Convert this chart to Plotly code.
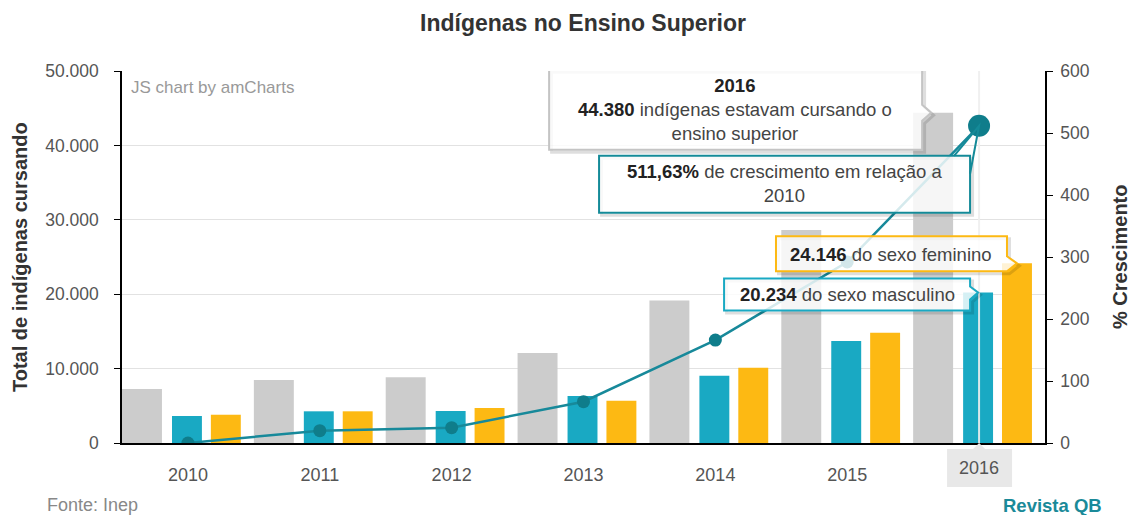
import plotly.graph_objects as go

# ---------------- data ----------------
years = ["2010", "2011", "2012", "2013", "2014", "2015", "2016"]
total = [7256, 8470, 8850, 12100, 19150, 28630, 44380]
masculino = [3630, 4260, 4300, 6320, 9050, 13710, 20234]
feminino = [3800, 4260, 4700, 5690, 10120, 14830, 24146]
crescimento = [0, 19.8, 24.7, 66.6, 166.0, 291.9, 511.63]
y_ticks = [0, 10000, 20000, 30000, 40000, 50000]
y2_ticks = [0, 100, 200, 300, 400, 500, 600]

# ---------------- style ----------------
FONT = "Arial, Liberation Sans, sans-serif"
GREY, TEAL, YELLOW = "#cccccc", "#19a9c3", "#fdb913"
LINE, DOT = "#17899a", "#0f7d8b"
W_GREY, OFF_GREY = 0.303, -0.5
W_SEX = 0.227
OFF_M, OFF_F = -0.121, 0.174

# body margin is removed by post_script, so the figure starts at (0, 0)
W, H = 1131, 515
L, T = 122, 71
R = 1131 - 1045
B = 515 - 443
PW = W - L - R
PH = H - T - B

xs = list(range(len(years)))
last = xs[-1]

fig = go.Figure()
fig.add_bar(x=xs, y=total, width=W_GREY, offset=OFF_GREY, marker_color=GREY,
            marker_line_width=0, name="Total")
fig.add_bar(x=xs, y=masculino, width=W_SEX, offset=OFF_M, marker_color=TEAL,
            marker_line_width=0, name="Masculino")
fig.add_bar(x=xs, y=feminino, width=W_SEX, offset=OFF_F, marker_color=YELLOW,
            marker_line_width=0, name="Feminino")
# category cursor line on the highlighted year
fig.add_scatter(x=[last, last], y=[0, y_ticks[-1]], mode="lines",
                line=dict(color="rgba(238,238,238,0.9)", width=2), hoverinfo="skip")
fig.add_scatter(x=xs, y=crescimento, yaxis="y2", mode="lines+markers",
                line=dict(color=LINE, width=2.5),
                marker=dict(color=DOT, size=13, line=dict(width=0)), name="% Crescimento")

shapes = []
annotations = []
TXT = 18.5


def shift(path, dx, dy):
    pts = path.replace("M", "").replace("Z", "").split("L")
    sp = []
    for p in pts:
        a, b = p.strip().split(",")
        sp.append(f"{float(a)+dx},{float(b)+dy}")
    return "M" + " L".join(sp) + " Z"


def balloon(xa, ya, yref, path, border, text, dx, dy, wedge=None):
    base = dict(type="path", xref="x", yref=yref, xsizemode="pixel", ysizemode="pixel",
                xanchor=xa, yanchor=ya, layer="above")
    shapes.append(dict(base, path=shift(path, 2.5, -2.5), fillcolor="rgba(0,0,0,0)",
                       line=dict(color="rgba(0,0,0,0.13)", width=3)))
    shapes.append(dict(base, path=path, fillcolor="rgba(255,255,255,0.82)",
                       line=dict(color=border, width=2)))
    if wedge:
        shapes.append(dict(base, path=wedge, fillcolor="rgba(0,0,0,0)",
                           line=dict(color=border, width=2)))
    annotations.append(dict(x=xa, y=ya, xref="x", yref=yref, xshift=dx, yshift=dy,
                            text=text, showarrow=False, align="center",
                            xanchor="center", yanchor="middle",
                            font=dict(family=FONT, size=TXT, color="#444")))


grey_c = last + OFF_GREY + W_GREY / 2
m_c = last + OFF_M + W_SEX / 2
f_c = last + OFF_F + W_SEX / 2

# total balloon (grey)
balloon(grey_c, total[-1], "y",
        "M -384,43 L -11,43 L -11,8 L -2,0 L -11,-8 L -11,-37 L -384,-37 Z",
        "#c4c4c4",
        f"<b style='color:#222'>{years[-1]}</b><br><b style='color:#222'>44.380</b> indígenas estavam cursando o<br>ensino superior",
        -198, 3)
# growth balloon
balloon(last, crescimento[-1], "y2",
        "M -380,-30 L -9,-30 L -9,-87 L -380,-87 Z",
        "#148a98",
        "<b style='color:#222'>511,63%</b> de crescimento em relação a<br>2010",
        -195, -58,
        wedge="M -25,-30 L 0,0 L -9,-48")
# feminino balloon
balloon(f_c, feminino[-1], "y",
        "M -241,27 L -10,27 L -10,7 L 0,0 L -10,-8 L -241,-8 Z",
        YELLOW,
        "<b style='color:#222'>24.146</b> do sexo feminino",
        -126, 9)
# masculino balloon
balloon(m_c, masculino[-1], "y",
        "M -254,14 L -8,14 L -8,6 L 0,0 L -8,-7 L -8,-18 L -254,-18 Z",
        TEAL,
        "<b style='color:#222'>20.234</b> do sexo masculino",
        -131, -2)

# highlighted (hovered) point of the growth line, on top of everything
fig.add_scatter(x=[last], y=[crescimento[-1]], yaxis="y2", mode="markers",
                marker=dict(color=DOT, size=22, line=dict(width=0)), hoverinfo="skip")

# category cursor label on x axis
shapes.append(dict(type="path", xref="x", yref="paper", xsizemode="pixel", ysizemode="pixel",
                   xanchor=last, yanchor=0, layer="above",
                   path="M -32,-6 L -6,-6 L 0,0 L 6,-6 L 33,-6 L 33,-44 L -32,-44 Z",
                   fillcolor="#e8e8e8", line=dict(width=0)))
annotations.append(dict(x=last, y=0, xref="x", yref="paper", yshift=-25, yanchor="middle",
                        text=years[-1], showarrow=False,
                        font=dict(family=FONT, size=18, color="#555")))

foot_y = -(B - 10) / PH
annotations += [
    dict(x=0, y=0.5, xref="paper", yref="paper", xshift=-102, xanchor="center", yanchor="middle",
         text="<b>Total de indígenas cursando</b>",
         textangle=-90, showarrow=False, font=dict(family=FONT, size=20, color="#333")),
    dict(x=1, y=0.5, xref="paper", yref="paper", xshift=75, xanchor="center", yanchor="middle",
         text="<b>% Crescimento</b>",
         textangle=-90, showarrow=False, font=dict(family=FONT, size=20, color="#333")),
    dict(x=0, y=1, xref="paper", yref="paper", xshift=7, yshift=-16, xanchor="left",
         yanchor="middle", text="JS chart by amCharts", showarrow=False,
         font=dict(family=FONT, size=17, color="#999")),
    dict(x=(45 - L) / PW, y=foot_y, xref="paper", yref="paper",
         xanchor="left", yanchor="middle", text="Fonte: Inep", showarrow=False,
         font=dict(family=FONT, size=18, color="#888")),
    dict(x=(1104 - L) / PW, y=foot_y, xref="paper", yref="paper",
         xanchor="right", yanchor="middle", text="<b>Revista QB</b>", showarrow=False,
         font=dict(family=FONT, size=18.5, color="#1a8a99")),
]

fig.update_layout(
    width=W, height=H,
    margin=dict(l=L, r=R, t=T, b=B, autoexpand=False),
    paper_bgcolor="white", plot_bgcolor="white",
    barmode="overlay", showlegend=False, hovermode=False,
    separators=",.",
    font=dict(family=FONT, size=17, color="#555"),
    title=dict(text="<b>Indígenas no Ensino Superior</b>", x=583 / W, xanchor="center",
               y=1 - 23 / H, yanchor="middle",
               font=dict(family=FONT, size=23, color="#333")),
    xaxis=dict(range=[-0.5, len(years) - 0.5], tickvals=xs,
               ticktext=years[:-1] + [""], showgrid=False, zeroline=False,
               showline=True, linecolor="#000", linewidth=1.5, ticks="",
               ticklabelstandoff=15, tickfont=dict(size=18, color="#555")),
    yaxis=dict(range=[0, y_ticks[-1]], tickvals=y_ticks, tickformat=",d",
               showgrid=True, gridcolor="#e2e2e2", gridwidth=1, zeroline=False,
               showline=True, linecolor="#000", linewidth=1.5, ticks="outside",
               ticklen=6, tickcolor="#000", ticklabelstandoff=12,
               tickfont=dict(size=17.5, color="#555")),
    yaxis2=dict(range=[0, y2_ticks[-1]], tickvals=y2_ticks, overlaying="y", side="right",
                showgrid=False, zeroline=False, showline=True, linecolor="#000",
                linewidth=1.5, ticks="outside", ticklen=6, tickcolor="#000",
                ticklabelstandoff=4, tickfont=dict(size=17.5, color="#555")),
    shapes=shapes, annotations=annotations,
)

fig.write_html("out.html", config={"displayModeBar": False},
               post_script="document.body.style.margin='0';document.body.style.overflow='hidden';")
